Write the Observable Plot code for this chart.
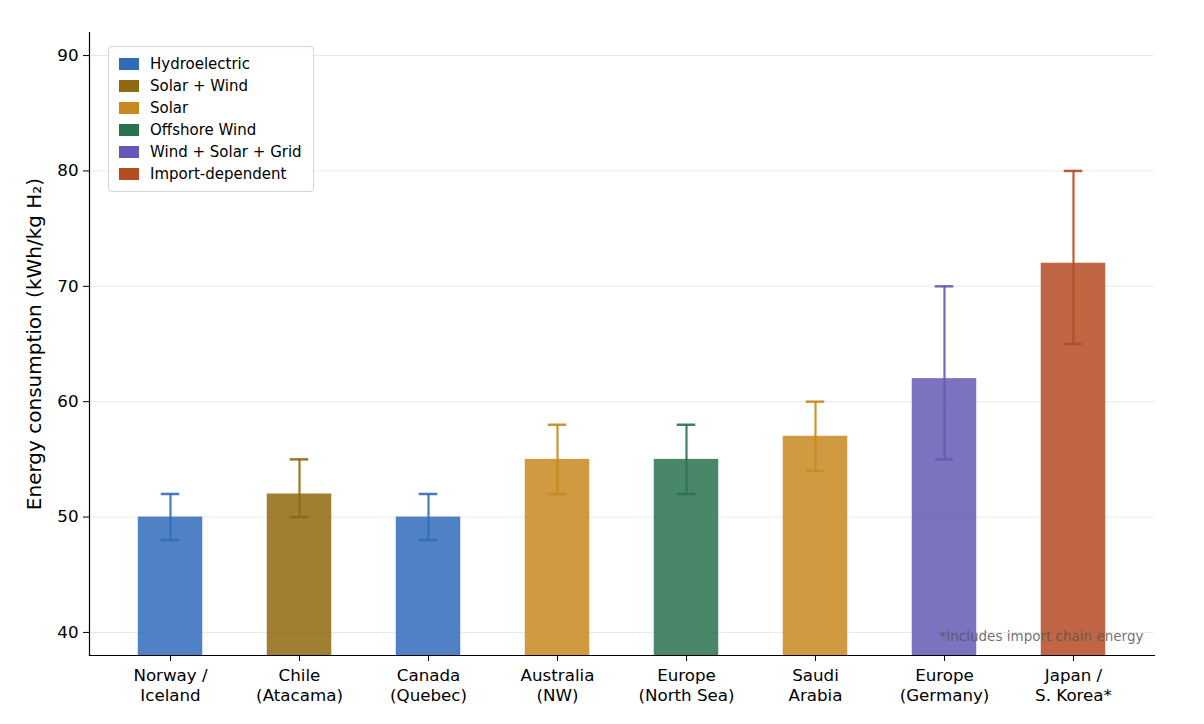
<!DOCTYPE html>
<html><head><meta charset="utf-8">
<script src="https://cdn.jsdelivr.net/npm/d3@7"></script>
<script src="https://cdn.jsdelivr.net/npm/@observablehq/plot@0.6"></script>
<style>
body{margin:0;background:#fff;font-family:"DejaVu Sans",sans-serif}
#wrap{position:relative;width:1204px;height:724px}
#legend{position:absolute;left:108px;top:46px;width:204px;height:144px;border:1px solid #d4d4d4;border-radius:4px;background:rgba(255,255,255,0.85);box-sizing:content-box}
.row{position:absolute;left:10px;height:22px;display:flex;align-items:center;font-size:15px;color:#000;white-space:nowrap}
.sw{width:20px;height:12px;margin-right:11px}
</style></head><body><div id="wrap"></div>
<script>
const regions = ["Norway /\nIceland","Chile\n(Atacama)","Canada\n(Quebec)","Australia\n(NW)","Europe\n(North Sea)","Saudi\nArabia","Europe\n(Germany)","Japan /\nS. Korea*"];
const values = [50,52,50,55,55,57,62,72];
const lows   = [48,50,48,52,52,54,55,65];
const highs  = [52,55,52,58,58,60,70,80];
const sources = ["Hydroelectric","Solar + Wind","Hydroelectric","Solar","Offshore Wind","Solar","Wind + Solar + Grid","Import-dependent"];
const sourceNames  = ["Hydroelectric","Solar + Wind","Solar","Offshore Wind","Wind + Solar + Grid","Import-dependent"];
const sourceColors = ["#306bba","#8f690f","#c7881f","#2a7250","#645ab5","#b54b23"];
const yTicks = [40,50,60,70,80,90];
const yDomain = [38,92];
const yLabel = "Energy consumption (kWh/kg H₂)";
const footnote = "*Includes import chain energy";

const data = regions.map((r,i)=>({region:r,value:values[i],low:lows[i],high:highs[i],source:sources[i]}));

const chart = Plot.plot({
  width:1204, height:724,
  marginLeft:89, marginRight:50, marginTop:32, marginBottom:69,
  style:{fontFamily:"DejaVu Sans, sans-serif", fontSize:"16.7px", color:"#000", background:"#fff"},
  x:{domain:regions, paddingInner:0.5, paddingOuter:0.378, align:0.5, round:false},
  y:{domain:yDomain},
  color:{domain:sourceNames, range:sourceColors},
  marks:[
    Plot.gridY(yTicks,{stroke:"#000",strokeOpacity:0.09,strokeWidth:1}),
    Plot.barY(data,{x:"region",y1:yDomain[0],y2:"value",fill:"source",fillOpacity:0.85}),
    Plot.ruleX(data,{x:"region",y1:"low",y2:"high",stroke:"source",strokeWidth:2.2,strokeOpacity:0.9}),
    Plot.tickY(data,{x:"region",y:"low",stroke:"source",strokeWidth:2.5,strokeOpacity:0.9,insetLeft:23,insetRight:23}),
    Plot.tickY(data,{x:"region",y:"high",stroke:"source",strokeWidth:2.5,strokeOpacity:0.9,insetLeft:23,insetRight:23}),
    Plot.frame({anchor:"left",stroke:"#000",strokeWidth:1.2}),
    Plot.frame({anchor:"bottom",stroke:"#000",strokeWidth:1.2}),
    Plot.axisY(yTicks,{label:null,tickSize:6,tickPadding:5,fontSize:16.7,tickFormat:d=>String(d)}),
    Plot.axisX({label:null,tickSize:6,tickPadding:5,fontSize:16.7,lineHeight:1.2}),
    Plot.text([yLabel],{frameAnchor:"left",rotate:-90,dx:-63,textAnchor:"middle",lineAnchor:"top",fontSize:20,fill:"#000"}),
    Plot.text([footnote],{frameAnchor:"bottom-right",dx:-11,dy:-19,lineAnchor:"middle",fontSize:13.5,fill:"#555",fillOpacity:0.85})
  ]
});
const wrap = document.getElementById("wrap");
wrap.appendChild(chart);

const legend = document.createElement("div");
legend.id = "legend";
sourceNames.forEach((name,i)=>{
  const row = document.createElement("div");
  row.className = "row";
  row.style.top = (6 + i*22) + "px";
  const sw = document.createElement("span");
  sw.className = "sw";
  sw.style.background = sourceColors[i];
  const tx = document.createElement("span");
  tx.textContent = name;
  row.appendChild(sw); row.appendChild(tx);
  legend.appendChild(row);
});
wrap.appendChild(legend);
</script>
</body></html>
